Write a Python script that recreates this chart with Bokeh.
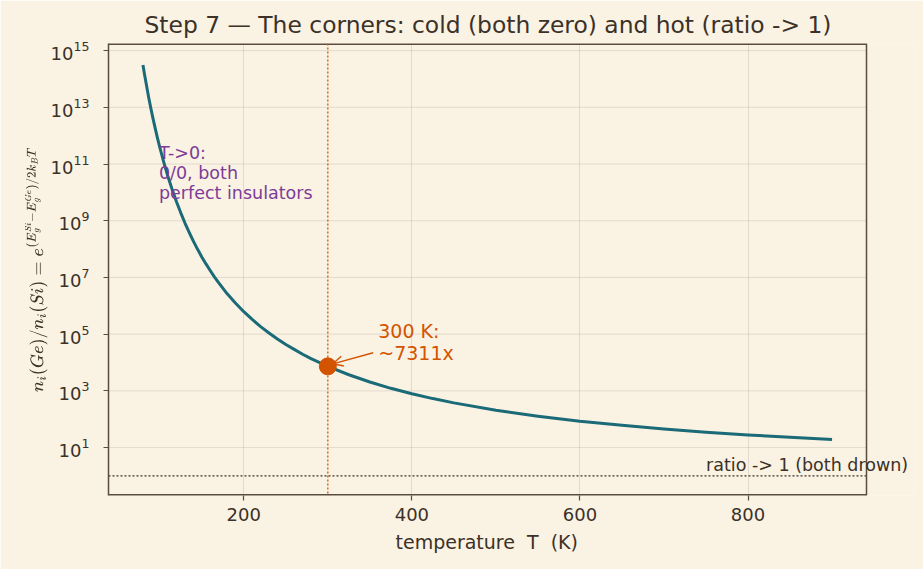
from bokeh.plotting import figure
from bokeh.models import (ColumnDataSource, FixedTicker, Label, Arrow,
                          OpenHead, Range1d, Span, Title)
from bokeh.embed import file_html
from bokeh.resources import INLINE

# Ge/Si intrinsic carrier ratio versus temperature
temperature_K = [80, 82, 85, 87, 90, 92, 95, 97, 100, 105, 110, 115, 120, 125,
                 130, 135, 140, 145, 150, 155, 160, 165, 170, 180, 190, 200,
                 210, 220, 230, 240, 250, 260, 270, 280, 300, 325, 350, 375,
                 400, 425, 450, 500, 550, 600, 650, 700, 750, 800, 850, 900]
ratio = [3.1e14, 1.37e14, 4.4e13, 2.1e13, 7.6e12, 4.0e12, 1.6e12, 8.9e11,
         3.9e11, 1.1e11, 3.4e10, 1.2e10, 4.6e9, 1.9e9, 8.3e8, 3.9e8, 1.9e8,
         9.8e7, 5.3e7, 3.0e7, 1.76e7, 1.05e7, 6.6e6, 2.7e6, 1.26e6, 6.2e5,
         3.3e5, 1.85e5, 1.1e5, 6.7e4, 4.3e4, 2.9e4, 1.96e4, 1.38e4, 7311,
         3.7e3, 2050, 1230, 790, 534, 377, 208, 128, 85, 61, 45, 35, 28, 23,
         19.4]

room_T = 300
room_ratio = 7311
hot_limit = 1

x_ticks = [200, 400, 600, 800]
y_ticks = [10.0 ** k for k in range(1, 16, 2)]

BG = "#faf2e3"
INK = "#3b3128"
FRAME = "#5a4d3e"
TEAL = "#1a6a78"
ORANGE = "#d35400"
PURPLE = "#7d3c98"
FONT = "DejaVu Sans"

# axes box limits; the drawable area runs a little past the right edge so the
# "both drown" note can overhang the box
x_lo, x_hi = 39, 941
y_lo, y_hi = 10 ** -0.69, 10 ** 15.25
box_px, pad_px = 758, 49
x_pad = x_hi + (x_hi - x_lo) * pad_px / box_px

p = figure(width=923, height=569, y_axis_type="log",
           output_backend="svg", toolbar_location=None,
           x_range=Range1d(x_lo, x_pad), y_range=Range1d(y_lo, y_hi),
           min_border_left=108, min_border_right=57 - pad_px,
           min_border_top=43, min_border_bottom=74)

p.background_fill_color = BG
p.border_fill_color = BG
p.outline_line_color = None

p.title.text = "Step 7 \u2014 The corners: cold (both zero) and hot (ratio -> 1)"
p.title.align = "left"
p.title.offset = 36
p.title.text_font = FONT
p.title.text_font_style = "normal"
p.title.text_font_size = "23.4px"
p.title.text_color = INK
p.title.standoff = 9

p.xaxis.ticker = FixedTicker(ticks=x_ticks, minor_ticks=[])
p.yaxis.ticker = FixedTicker(ticks=y_ticks, minor_ticks=[])
p.yaxis.axis_label = r"$$n_i(Ge)/n_i(Si) = e^{(E_g^{Si}-E_g^{Ge})/2k_BT}$$"

for ax in (p.xaxis[0], p.yaxis[0]):
    ax.major_tick_line_color = FRAME
    ax.major_tick_line_width = 1.2
    ax.major_tick_out = 5
    ax.major_tick_in = 0
    ax.minor_tick_line_color = None
    ax.major_label_text_font = FONT
    ax.major_label_text_font_size = "18px"
    ax.major_label_text_color = INK
    ax.axis_label_text_font = FONT
    ax.axis_label_text_font_style = "normal"
    ax.axis_label_text_color = INK
p.xaxis.axis_line_color = None
p.yaxis.axis_line_color = FRAME
p.yaxis.axis_line_width = 1.5
p.yaxis.axis_label_text_font_size = "14.5px"
p.xaxis.major_label_standoff = 7
p.yaxis.major_label_standoff = 14
p.yaxis.axis_label_standoff = 0

# x axis title, placed under the box rather than the padded drawing area
p.add_layout(Title(text="temperature\u00a0\u00a0T\u00a0\u00a0(K)", align="left",
                   offset=287, text_font=FONT, text_font_size="19px",
                   text_font_style="normal", text_color=INK, standoff=10),
             "below")

p.xgrid.ticker = FixedTicker(ticks=x_ticks)
p.xgrid.grid_line_color = "#a79f92"
p.xgrid.grid_line_dash = "1 1"
p.xgrid.grid_line_width = 0.7
p.xgrid.grid_line_alpha = 0.8
p.ygrid.grid_line_color = None

# horizontal grid, stopping at the right edge of the box
p.segment(x0=[x_lo] * len(y_ticks), x1=[x_hi] * len(y_ticks),
          y0=y_ticks, y1=y_ticks, line_color="#a79f92", line_dash="1 1",
          line_width=0.7, line_alpha=0.8)

src = ColumnDataSource(dict(T=temperature_K, r=ratio))
p.line("T", "r", source=src, line_color=TEAL, line_width=3,
       line_join="round")

# reference lines: room temperature and the hot-limit ratio of 1
p.add_layout(Span(location=room_T, dimension="height", line_color=ORANGE,
                  line_dash="2 2", line_width=1.3))
p.segment(x0=[x_lo], x1=[x_hi], y0=[hot_limit], y1=[hot_limit],
          line_color=INK, line_dash="2 2", line_width=1.3)

p.scatter([room_T], [room_ratio], size=17, color=ORANGE)

p.add_layout(Arrow(end=OpenHead(size=10, line_color=ORANGE, line_width=1.4),
                   x_start=354, y_start=2.2e4, x_end=306, y_end=9.0e3,
                   line_color=ORANGE, line_width=1.4))

p.add_layout(Label(x=360, y=10 ** 4.72, text="300 K:\n~%dx" % room_ratio,
                   text_font=FONT, text_font_size="19px", text_line_height=1.0,
                   text_color=ORANGE, text_baseline="middle"))

p.add_layout(Label(x=99, y=10 ** 10.7, text="T->0:\n0/0, both\nperfect insulators",
                   text_font=FONT, text_font_size="17.5px", text_line_height=1.0,
                   text_color=PURPLE, text_baseline="middle"))

p.add_layout(Label(x=750, y=hot_limit * 1.12, text="ratio -> 1 (both drown)",
                   text_font=FONT, text_font_size="17.5px",
                   text_color=INK, text_baseline="bottom"))

# box edges: bottom and top sit on the frame edge (half is clipped), right is inside
p.segment(x0=[x_lo, x_lo], x1=[x_hi, x_hi], y0=[y_lo, y_hi], y1=[y_lo, y_hi],
          line_color=FRAME, line_width=3)
p.segment(x0=[x_hi], x1=[x_hi], y0=[y_lo], y1=[y_hi],
          line_color=FRAME, line_width=1.5)

open("out.html", "w").write(file_html(p, INLINE))
